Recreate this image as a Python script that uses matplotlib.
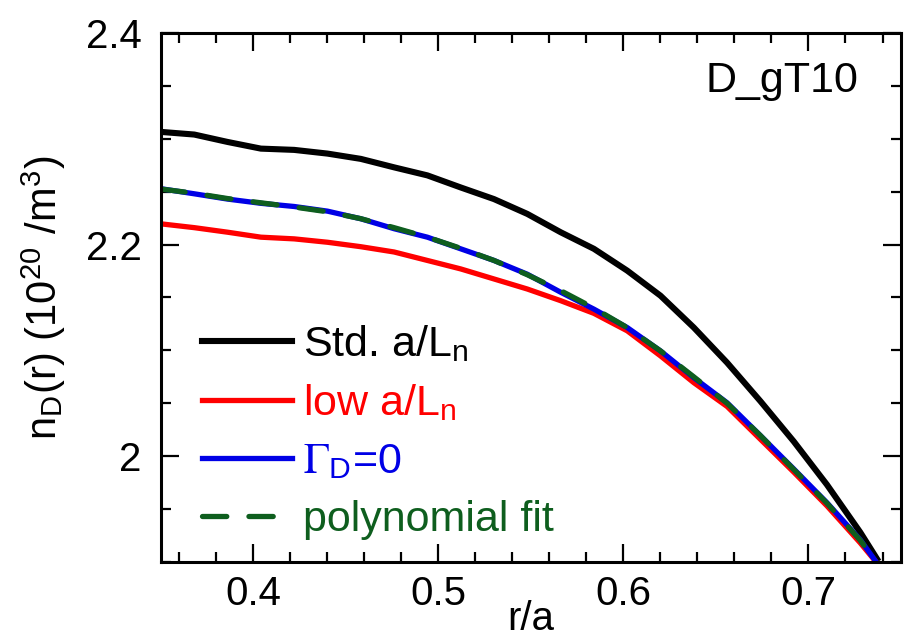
import matplotlib
matplotlib.use('Agg')
import matplotlib.pyplot as plt
from matplotlib.ticker import MultipleLocator, FormatStrFormatter

plt.rcParams['font.family'] = ['Liberation Sans', 'DejaVu Sans']
plt.rcParams['mathtext.fontset'] = 'stix'   # serif Gamma as in the original

# r/a grid
r = [0.350, 0.368, 0.386, 0.404, 0.422, 0.440, 0.458, 0.476, 0.494, 0.512,
     0.530, 0.548, 0.566, 0.584, 0.602, 0.620, 0.638, 0.656, 0.674, 0.692,
     0.710, 0.728, 0.737]

# n_D(r) in 1e20 m^-3
n_std = [2.3065, 2.304, 2.297, 2.2907, 2.2895, 2.286, 2.281, 2.273, 2.2654, 2.254,
         2.243, 2.229, 2.2117, 2.196, 2.1754, 2.1517, 2.1216, 2.0884, 2.052, 2.014,
         1.973, 1.928, 1.903]
n_low = [2.2196, 2.216, 2.2117, 2.207, 2.2054, 2.2022, 2.198, 2.193, 2.185, 2.177,
         2.1675, 2.158, 2.147, 2.135, 2.1185, 2.0948, 2.0695, 2.047, 2.016, 1.985,
         1.953, 1.918, 1.899]
n_gam = [2.2528, 2.248, 2.243, 2.239, 2.236, 2.2316, 2.2244, 2.215, 2.207, 2.196,
         2.185, 2.172, 2.155, 2.139, 2.1216, 2.0995, 2.0742, 2.0505, 2.0195, 1.988,
         1.956, 1.921, 1.899]
n_fit = [2.2525, 2.2485, 2.2435, 2.2395, 2.2355, 2.231, 2.2245, 2.216, 2.207, 2.1965,
         2.185, 2.1715, 2.1565, 2.140, 2.1215, 2.0995, 2.075, 2.050, 2.0195, 1.9875,
         1.9555, 1.9205, 1.899]

labels = ['Std. a/L$_\\mathregular{n}$', 'low a/L$_\\mathregular{n}$',
          '$\\Gamma_\\mathregular{D}$=0', 'polynomial fit']
colors = ['black', '#ff0000', '#0000e6', '#0e5e1e']

fig = plt.figure(figsize=(9.09, 6.39), dpi=100)
ax = fig.add_axes([0.1771, 0.1205, 0.8141, 0.8279])

ax.plot(r, n_std, color=colors[0], lw=4.4, label=labels[0])
ax.plot(r, n_low, color=colors[1], lw=3.8, label=labels[1])
ax.plot(r, n_gam, color=colors[2], lw=3.8, label=labels[2])
ax.plot(r, n_fit, color=colors[3], lw=3.8, dashes=(4.6, 4.2),
        dash_capstyle='round', label=labels[3])

ax.set_xlim(0.35, 0.75)
ax.set_ylim(1.9, 2.4)
ax.xaxis.set_major_locator(MultipleLocator(0.1))
ax.xaxis.set_minor_locator(MultipleLocator(0.02))
ax.yaxis.set_major_locator(MultipleLocator(0.2))
ax.yaxis.set_minor_locator(MultipleLocator(0.05))
ax.xaxis.set_major_formatter(FormatStrFormatter('%g'))
ax.yaxis.set_major_formatter(FormatStrFormatter('%g'))

ax.tick_params(which='both', direction='in', top=True, right=True, width=1.6)
ax.tick_params(which='major', length=13)
ax.tick_params(which='minor', length=7)
ax.tick_params(axis='x', which='major', labelsize=29, pad=9)
ax.tick_params(axis='y', which='major', labelsize=29, pad=14)
for s in ax.spines.values():
    s.set_linewidth(2.2)

ax.set_xlabel('r/a', fontsize=29)
ax.xaxis.set_label_coords(0.5, -0.072)
ax.set_ylabel('n$_\\mathregular{D}$(r) (10$^\\mathregular{20}$ /m$^\\mathregular{3}$)', fontsize=30)
ax.yaxis.set_label_coords(-0.125, 0.5)

ax.text(0.942, 0.889, 'D_gT10', transform=ax.transAxes, ha='right',
        va='baseline', fontsize=31)

leg = ax.legend(loc='center left', bbox_to_anchor=(0.055, 0.245), frameon=False,
                fontsize=31, handlelength=2.1, handletextpad=0.25,
                labelspacing=0.42, borderaxespad=0, borderpad=0)
for t, c in zip(leg.get_texts(), colors):
    t.set_color(c)

fig.savefig('out.png', dpi=100)
